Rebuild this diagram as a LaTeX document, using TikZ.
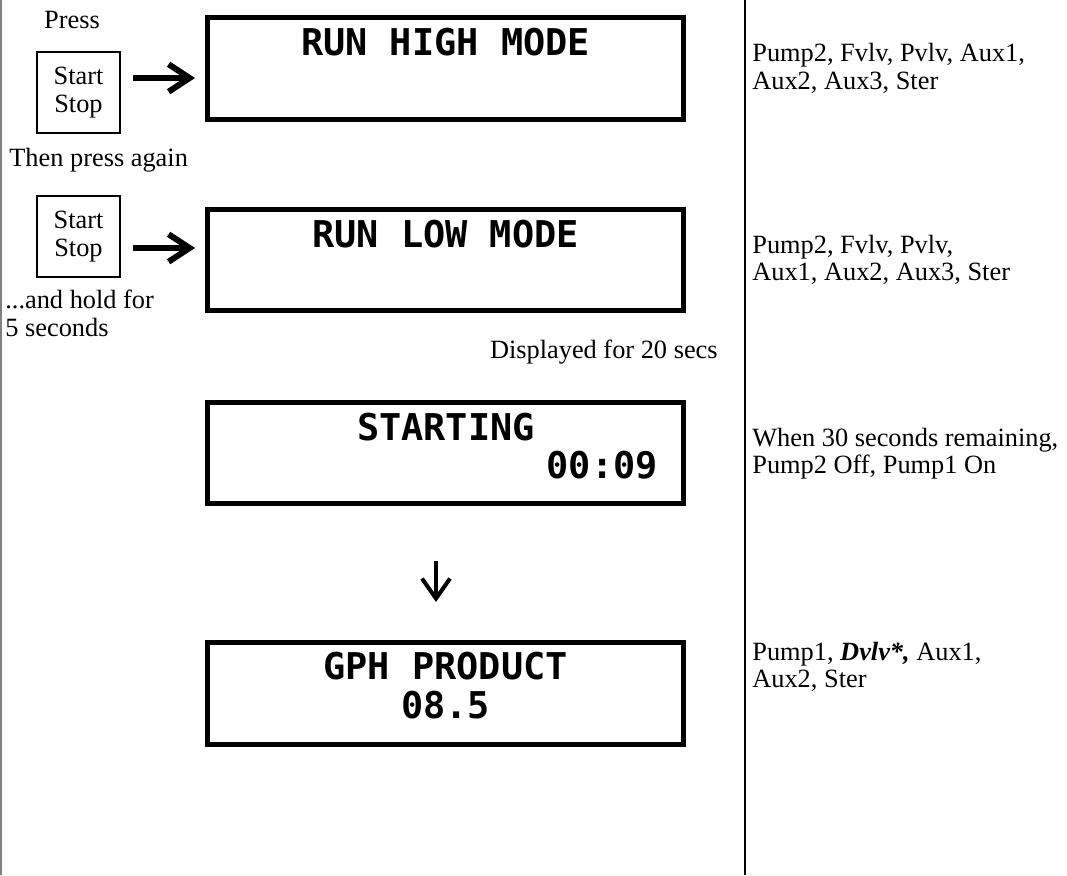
\documentclass[tikz,border=0pt]{standalone}
\usepackage{fontspec}
\setmainfont{Liberation Serif}
\newfontfamily\lcdfont{DejaVu Sans Mono}
\usetikzlibrary{arrows.meta,positioning}

\begin{document}
\begin{tikzpicture}[x=0.02cm,y=-0.02cm,
        txt/.style={inner sep=0pt,align=left,font=\fontsize{15pt}{15.5pt}\selectfont},
        display/.style={draw,line width=0.1cm,minimum width=9.52cm,minimum height=2.04cm},
        lcd/.style={inner sep=0pt,font=\lcdfont\bfseries\fontsize{21pt}{24pt}\selectfont},
        keybox/.style={draw,line width=0.6pt,minimum width=1.66cm,minimum height=1.62cm,align=center,font=\fontsize{15pt}{15.5pt}\selectfont},
        bigarrow/.style={line width=0.12cm,-{Straight Barb[length=0.42cm,width=0.55cm,line width=0.12cm]}},
        smallarrow/.style={line width=0.08cm,-{Straight Barb[length=0.4cm,width=0.56cm,line width=0.08cm]}}]
        \useasboundingbox (0,0) rectangle (1067,875);
        % table rules
        \draw[gray,line width=0.04cm] (1,0) -- (1,875);
        \draw[line width=0.04cm] (745,0) -- (745,875);
        % displays
        \node[display] (high) at (445.5,68.5) {};
        \node[display] (low) at (445.5,260) {};
        \node[display] (start) at (445.5,453) {};
        \node[display] (gph) at (445.5,693) {};
        \node[lcd] (highA) at (445.5,42) {RUN HIGH MODE};
        \node[lcd] (lowA) at (445.5,234) {RUN LOW MODE};
        \node[lcd] (startA) at (446,427) {STARTING};
        \node[lcd,anchor=east] (startB) at (658,465) {00:09};
        \node[lcd] (gphA) at (445.5,666) {GPH PRODUCT};
        \node[lcd] (gphB) at (445.5,705) {08.5};
        % start/stop keys
        \node[txt] (press) at (72,20) {Press};
        \node[keybox] (key1) at (78.5,92.5) {Start\\Stop};
        \node[txt,anchor=west] (again) at (9,160) {Then press again};
        \node[keybox] (key2) at (78.5,236.5) {Start\\Stop};
        \node[txt,anchor=north west] (hold) at (5,290) {...and hold for\\5 seconds};
        % arrows
        \coordinate (a1) at (133,78);
        \coordinate (a2) at (133,248);
        \draw[bigarrow] (a1) -- ([xshift=-0.2cm]a1 -| high.west);
        \draw[bigarrow] (a2) -- ([xshift=-0.2cm]a2 -| low.west);
        \draw[smallarrow,shorten <=1.1cm,shorten >=0.75cm] ([xshift=-0.19cm]start.south) -- ([xshift=-0.19cm]gph.north);
        % notes
        \node[txt,anchor=east] (shown) at (718,352) {Displayed for 20 secs};
        \node[txt,anchor=west] (out1) at (752,68.5) {Pump2, Fvlv, Pvlv, Aux1,\\Aux2, Aux3, Ster};
        \node[txt,anchor=west] (out2) at (752,260) {Pump2, Fvlv, Pvlv,\\Aux1, Aux2, Aux3, Ster};
        \node[txt,anchor=west] (out3) at (752,454) {When 30 seconds remaining,\\Pump2 Off, Pump1 On};
        \node[txt,anchor=west] (out4) at (752,667) {Pump1, \textbf{\textit{Dvlv*,}} Aux1,\\Aux2, Ster};
    \end{tikzpicture}
\end{document}
